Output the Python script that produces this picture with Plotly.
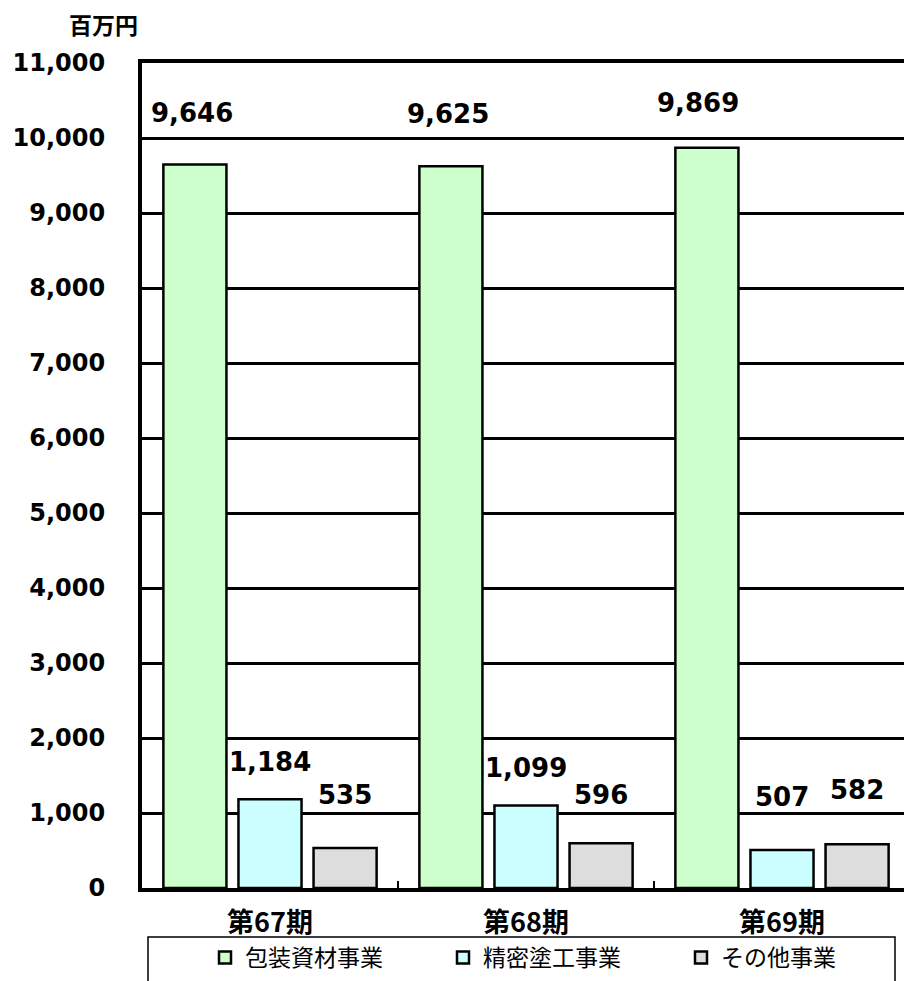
import plotly.graph_objects as go

# ---------------- data ----------------
categories = ["第67期", "第68期", "第69期"]
series_names = ["包装資材事業", "精密塗工事業", "その他事業"]
packaging = [9646, 9625, 9869]
precision = [1184, 1099, 507]
other = [535, 596, 582]
y_ticks = list(range(0, 11001, 1000))
y_tick_labels = [f"{v:,}" for v in y_ticks]
unit_label = "百万円"

# ---------------- style ----------------
colors = ["#CCFFCC", "#CCFFFF", "#DDDDDD"]
label_yshift = [[52, 52, 45], [37, 38, 53], [53, 48, 54]]
label_xshift = [[-3, -3, -9], [0, 0, 0], [0, 0, 0]]

W, H = 904, 981
L, R, T, B = 142, 0, 63, 93
bargap = 0.12
bargroupgap = 0.16
num_font = "DejaVu Sans"
cjk_font = "Noto Sans CJK JP"

plot_w = W - L - R
plot_h = H - T - B
px_per_cat = 256
x_range = [-0.5, -0.5 + plot_w / px_per_cat]


def px_to_paper_x(px):
    return (px - L) / plot_w


def px_to_paper_y(py):
    return (H - B - py) / plot_h


series_values = [packaging, precision, other]

fig = go.Figure()
for name, vals, col in zip(series_names, series_values, colors):
    fig.add_trace(go.Bar(
        x=categories, y=vals, name=name,
        marker=dict(color=col, line=dict(color="black", width=2.5)),
    ))

slot = (1 - bargap) / 3
annotations = []
for si, vals in enumerate(series_values):
    for ci, v in enumerate(vals):
        annotations.append(dict(
            x=ci + (si - 1) * slot, y=v, xref="x", yref="y",
            text=f"{v:,}", showarrow=False,
            xanchor="center", yanchor="middle",
            xshift=label_xshift[si][ci], yshift=label_yshift[si][ci],
            font=dict(family=num_font, size=26, color="black", weight="bold"),
        ))

annotations.append(dict(
    x=px_to_paper_x(103), y=px_to_paper_y(24), xref="paper", yref="paper",
    text=unit_label, showarrow=False, xanchor="center", yanchor="middle",
    font=dict(family=cjk_font, size=23, color="black", weight="bold"),
))

fig.update_layout(
    width=W, height=H,
    margin=dict(l=L, r=R, t=T, b=B, pad=0, autoexpand=False),
    paper_bgcolor="white", plot_bgcolor="white",
    barmode="group", bargap=bargap, bargroupgap=bargroupgap,
    annotations=annotations,
    showlegend=True,
    legend=dict(
        orientation="h",
        xref="container", yref="container",
        x=205 / W, y=1 - 936 / H,
        xanchor="left", yanchor="top",
        entrywidth=193, entrywidthmode="pixels",
        font=dict(family=cjk_font, size=23, color="black"),
        bgcolor="rgba(0,0,0,0)",
        traceorder="normal",
    ),
    shapes=[dict(
        type="rect", xref="paper", yref="paper",
        x0=px_to_paper_x(148), x1=px_to_paper_x(895),
        y0=px_to_paper_y(937), y1=px_to_paper_y(1000),
        line=dict(color="black", width=1.5), fillcolor="rgba(0,0,0,0)",
        layer="above",
    )],
    xaxis=dict(
        type="category", range=x_range,
        showline=True, linecolor="black", linewidth=4, mirror=True,
        ticks="inside", tickson="boundaries", ticklen=7, tickwidth=2, tickcolor="black",
        showgrid=False,
        tickfont=dict(family=cjk_font, size=27, color="black", weight="bold"),
        ticklabelstandoff=8,
    ),
    yaxis=dict(
        range=[0, 11000], tickvals=y_ticks, ticktext=y_tick_labels,
        showline=True, linecolor="black", linewidth=4,
        showgrid=True, gridcolor="black", gridwidth=3,
        zeroline=False, ticks="",
        tickfont=dict(family=num_font, size=24, color="black", weight="bold"),
        ticklabelstandoff=28,
    ),
)

fig.write_html("out.html")
